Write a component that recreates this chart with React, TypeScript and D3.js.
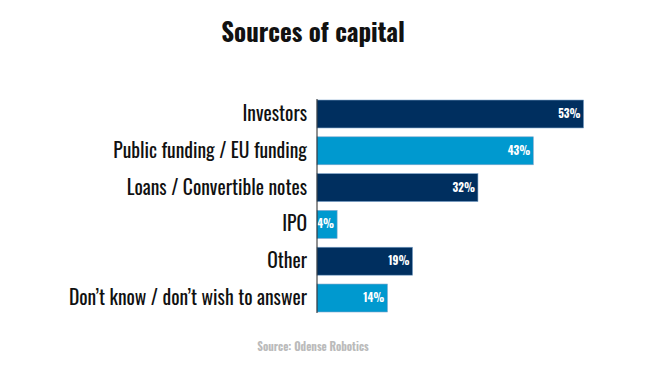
import * as d3 from "d3";

const categories = [
  "Investors",
  "Public funding / EU funding",
  "Loans / Convertible notes",
  "IPO",
  "Other",
  "Don\u2019t know / don\u2019t wish to answer",
];
const shares = [53, 43, 32, 4, 19, 14];
const barColors = ["#002f5f", "#0099cf"];

const FONT = "Oswald, 'Liberation Sans Narrow', 'DejaVu Sans Condensed', 'Roboto Condensed', sans-serif";

export default function App() {
  const width = 656;
  const height = 374;
  const x0 = 317;

  const x = d3.scaleLinear().domain([0, 100]).range([x0, x0 + 503]);
  const y = d3
    .scaleBand<string>()
    .domain(categories)
    .range([100, 312])
    .paddingInner(0.24)
    .paddingOuter(0);

  return (
    <svg
      width={width}
      height={height}
      style={{ position: "absolute", left: 0, top: 0, background: "#fff" }}
    >
      <text
        x={313}
        y={42}
        textAnchor="middle"
        fontFamily={FONT}
        fontWeight={700}
        fontSize={25}
        fill="#111"
      >
        Sources of capital
      </text>

      {categories.map((c, i) => (
        <g key={c}>
          <rect
            x={x(0)}
            y={y(c)}
            width={x(shares[i]) - x(0)}
            height={y.bandwidth()}
            fill={barColors[i % 2]}
            stroke="#7fa6cc"
            strokeWidth={0.6}
          />
          <text
            x={x(shares[i]) - 3}
            y={(y(c) ?? 0) + y.bandwidth() / 2}
            dy="0.36em"
            textAnchor="end"
            fontFamily={FONT}
            fontWeight={700}
            fontSize={11}
            fill="#fff"
          >
            {shares[i]}%
          </text>
          <text
            x={307}
            y={(y(c) ?? 0) + y.bandwidth() / 2}
            dy="0.36em"
            textAnchor="end"
            fontFamily={FONT}
            fontSize={19.6}
            fill="#111"
          >
            {c}
          </text>
        </g>
      ))}

      <line x1={x0} x2={x0} y1={99} y2={313} stroke="#222" strokeWidth={1} />

      <text
        x={313}
        y={351}
        textAnchor="middle"
        fontFamily={FONT}
        fontWeight={700}
        fontSize={11}
        fill="#bbbbbb"
      >
        Source: Odense Robotics
      </text>
    </svg>
  );
}
